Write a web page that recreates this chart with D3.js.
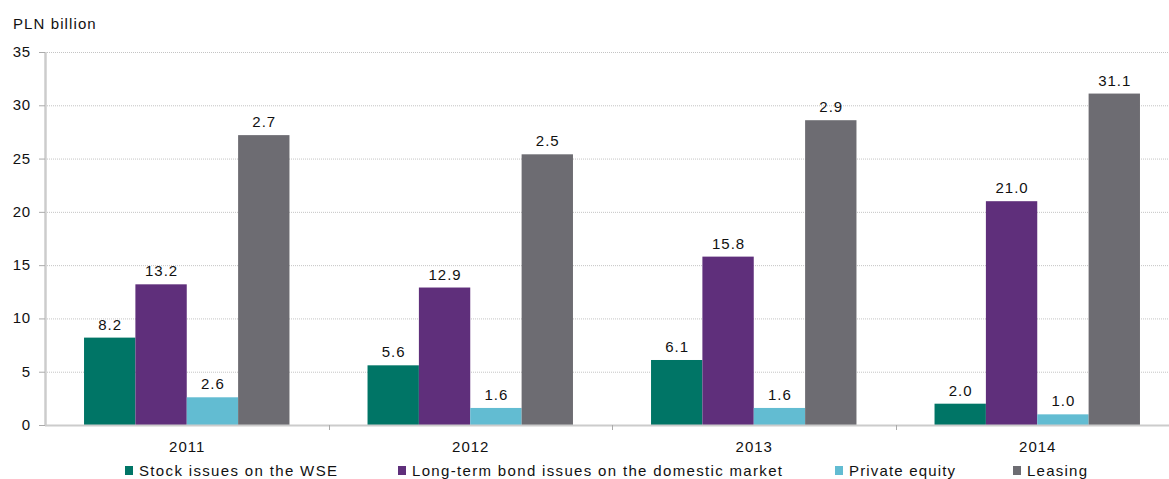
<!DOCTYPE html>
<html><head><meta charset="utf-8">
<script src="https://cdn.jsdelivr.net/npm/d3@7"></script>
<style>
html,body{margin:0;padding:0;background:#fff;}
svg{display:block;font-family:"Liberation Sans",Arial,sans-serif;}
</style></head>
<body>
<svg id="c" width="1169" height="479"></svg>
<script>
const years = ["2011","2012","2013","2014"];
const series = ["Stock issues on the WSE","Long-term bond issues on the domestic market","Private equity","Leasing"];
const stock = [8.2, 5.6, 6.1, 2.0];
const bonds = [13.2, 12.9, 15.8, 21.0];
const privateEquity = [2.6, 1.6, 1.6, 1.0];
const leasing = [27.2, 25.4, 28.6, 31.1];
const stockLabels = ["8.2","5.6","6.1","2.0"];
const bondLabels = ["13.2","12.9","15.8","21.0"];
const peLabels = ["2.6","1.6","1.6","1.0"];
const leasingLabels = ["2.7","2.5","2.9","31.1"];
const yTicks = [0,5,10,15,20,25,30,35];
const colors = ["#007566","#5f2f7b","#62bcd2","#6d6c72"];

const values = [stock, bonds, privateEquity, leasing];
const labels = [stockLabels, bondLabels, peLabels, leasingLabels];

const svg = d3.select("#c");
const mLeft = 45, mRight = 1179, mTop = 52, mBottom = 425;

const y = d3.scaleLinear().domain([0,35]).range([mBottom, mTop]);
const x0 = d3.scaleBand().domain(years).range([mLeft, mRight]).padding(0);
const x1 = d3.scaleBand().domain(d3.range(4)).range([0, x0.bandwidth()]).paddingInner(0).paddingOuter(0.76);

// gridlines
svg.append("g").selectAll("line").data(yTicks.filter(d=>d>0)).join("line")
  .attr("x1", mLeft).attr("x2", 1169)
  .attr("y1", d=>y(d)+0.5).attr("y2", d=>y(d)+0.5)
  .attr("stroke","#c4c4c4").attr("stroke-width",1).attr("stroke-dasharray","1,1");

// y axis line
svg.append("line").attr("x1",mLeft+0.5).attr("x2",mLeft+0.5).attr("y1",mTop).attr("y2",mBottom)
  .attr("stroke","#cccccc").attr("stroke-width",2.5);

// y tick labels
svg.append("g").selectAll("text").data(yTicks).join("text")
  .attr("x", 31).attr("y", d=>y(d)+5)
  .attr("text-anchor","end").attr("font-size",15).attr("letter-spacing",0.8).attr("fill","#111")
  .text(d=>d);

// small left ticks
svg.append("g").selectAll("line").data(yTicks).join("line")
  .attr("x1", mLeft-6).attr("x2", mLeft).attr("y1", d=>y(d)+0.5).attr("y2", d=>y(d)+0.5)
  .attr("stroke","#aaa");

// bars
const groups = svg.append("g").selectAll("g").data(years).join("g")
  .attr("transform", d=>`translate(${x0(d)},0)`);
groups.each(function(yr, yi){
  const g = d3.select(this);
  for (let s=0; s<4; s++){
    const v = values[s][yi];
    g.append("rect").attr("x", x1(s)).attr("width", x1.bandwidth())
      .attr("y", y(v)).attr("height", y(0)-y(v)).attr("fill", colors[s]);
    g.append("text").attr("x", x1(s)+x1.bandwidth()/2 + 0.5).attr("y", y(v)-8)
      .attr("text-anchor","middle").attr("font-size",15).attr("letter-spacing",1).attr("fill","#111")
      .text(labels[s][yi]);
  }
});

// x axis
svg.append("line").attr("x1",mLeft).attr("x2",1169).attr("y1",mBottom+0.5).attr("y2",mBottom+0.5)
  .attr("stroke","#cccccc").attr("stroke-width",2);
svg.append("g").selectAll("line").data(years.slice(1)).join("line")
  .attr("x1", d=>Math.round(x0(d))+0.5).attr("x2", d=>Math.round(x0(d))+0.5)
  .attr("y1", mBottom).attr("y2", mBottom+5).attr("stroke","#aaa");
svg.append("g").selectAll("text").data(years).join("text")
  .attr("x", d=>x0(d)+x0.bandwidth()/2 + 0.5).attr("y", 452)
  .attr("text-anchor","middle").attr("font-size",15).attr("letter-spacing",1).attr("fill","#111")
  .text(d=>d);

// title
svg.append("text").attr("x",13).attr("y",29).attr("font-size",15).attr("letter-spacing",1.1).attr("fill","#111").text("PLN billion");

// legend
const legX = [125, 398, 835, 1013];
const legW = [198, 370, 106, 60];
const leg = svg.append("g").selectAll("g").data(series).join("g")
  .attr("transform", (d,i)=>`translate(${legX[i]},476)`);
leg.append("rect").attr("x",0).attr("y",-10).attr("width",8).attr("height",9).attr("fill",(d,i)=>colors[i]);
leg.append("text").attr("x",14).attr("y",0).attr("font-size",15).attr("fill","#111")
  .attr("textLength",(d,i)=>legW[i]).attr("lengthAdjust","spacing")
  .text(d=>d);
</script>
</body></html>
